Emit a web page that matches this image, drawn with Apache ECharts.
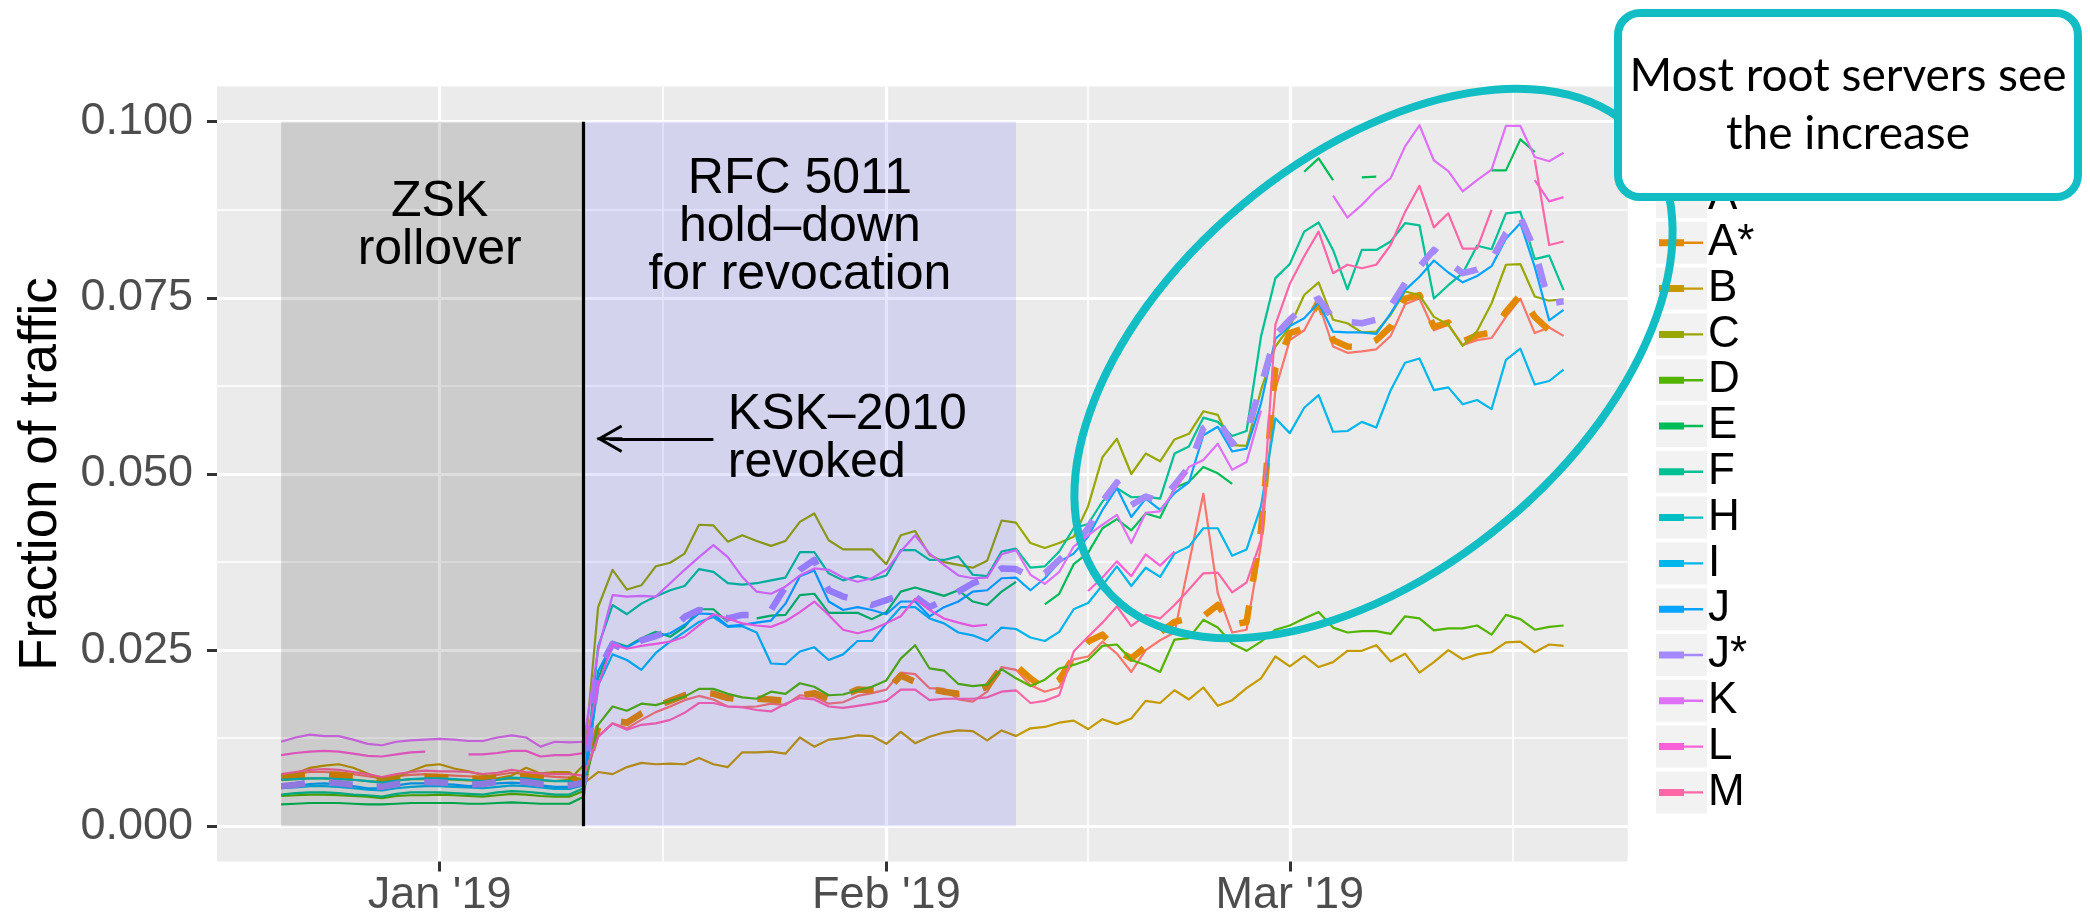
<!DOCTYPE html>
<html>
<head>
<meta charset="utf-8">
<script src="https://cdn.jsdelivr.net/npm/echarts@6/dist/echarts.min.js"></script>
<style>
  html, body { margin: 0; padding: 0; background: #ffffff; }
  #chart { width: 2090px; height: 921px; }
</style>
</head>
<body>
<div id="chart"></div>
<script>
// ---- time domain: one point per day, 2018-12-21 .. 2019-03-20 ----
const firstDay = Date.UTC(2018, 11, 21);
const jan1 = Date.UTC(2019, 0, 1);
const dayCount = 90;
const dates = [];
for (let i = 0; i < dayCount; i++) dates.push(new Date(firstDay + i * 864e5).toISOString().slice(0, 10));
const dayOf = (iso) => Math.round((Date.parse(iso) - jan1) / 864e5);   // days since 1 Jan 2019

// ---- axis ticks ----
const xTickDays = [0, 31, 59];
const xTickLabels = ["Jan '19", "Feb '19", "Mar '19"];
const xMinorDays = [15.5, 45, 74.5];
const yTicks = [0, 0.025, 0.05, 0.075, 0.1];
const yTickLabels = ['0.000', '0.025', '0.050', '0.075', '0.100'];
const yMinor = [0.0125, 0.0375, 0.0625, 0.0875];

// ---- periods and events (days since 1 Jan 2019) ----
const zskPeriod = [-11, 10];
const holdDownPeriod = [10, 40];
const revokedDay = 10;

// ---- root servers ----
const serverNames = ['A', 'A*', 'B', 'C', 'D', 'E', 'F', 'H', 'I', 'J', 'J*', 'K', 'L', 'M'];
const serverColors = ['#F8766D', '#E38900', '#C49A00', '#99A800', '#53B400', '#00BC56', '#00C094',
                      '#00BFC4', '#00B6EB', '#06A4FF', '#A58AFF', '#DF70F8', '#FB61D7', '#FF66A8'];
const dashedServers = ['A*', 'J*'];

// fraction of traffic per day (rows: Dec 21-Jan 11 | Jan 12-Feb 10 | Feb 11-Mar 1 | Mar 2-Mar 20)
const A = [
  .0072,.0075,.0077,.0077,.0076,.0074,.0071,.0068,.0071,.0073,.0074,.0073,.0072,.0071,.0070,.0073,.0076,.0074,.0072,.0070,.0069,.0066,
  .0127,.0146,.0139,.0151,.0162,.0170,.0179,.0185,.0180,.0170,.0169,.0170,.0174,.0172,.0186,.0184,.0174,.0176,.0185,.0189,.0194,.0218,.0216,.0196,.0195,.0180,.0177,.0191,.0226,.0222,
  .0200,.0191,.0197,.0237,.0241,.0262,.0245,.0219,.0250,.0264,.0275,.0373,.0472,.0331,.0275,.0279,.0400,.0620,.0690,
  .0704,.0742,.0681,.0672,.0674,.0677,.0696,.0741,.0749,.0704,.0712,.0683,.0690,.0693,.0723,.0749,.0700,.0708,.0696
];
const Astar = [
  .0069,.0071,.0073,.0073,.0073,.0071,.0068,.0065,.0068,.0070,.0070,.0070,.0069,.0068,.0067,.0070,.0073,.0071,.0069,.0067,.0066,.0064,
  .0140,.0150,.0147,.0160,.0170,.0178,.0186,.0190,.0188,.0182,.0180,.0181,.0180,.0178,.0185,.0189,.0181,.0185,.0194,.0193,.0192,.0214,.0205,.0195,.0191,.0188,.0190,.0198,.0226,.0228,
  .0210,.0195,.0208,.0240,.0262,.0272,.0250,.0238,.0255,.0275,.0290,.0295,.0298,.0314,.0286,.0290,.0420,.0650,.0700,
  .0707,.0745,.0690,.0681,.0680,.0690,.0709,.0749,.0754,.0709,.0715,.0688,.0697,.0701,.0730,.0754,.0723,.0704,.0697
];
const B = [
  .0070,.0075,.0083,.0086,.0088,.0083,.0075,.0066,.0070,.0078,.0086,.0088,.0082,.0078,.0073,.0068,.0072,.0083,.0075,.0077,.0077,.0061,
  .0077,.0074,.0084,.0090,.0088,.0089,.0088,.0097,.0088,.0084,.0105,.0105,.0106,.0103,.0126,.0113,.0123,.0125,.0129,.0128,.0117,.0134,.0118,.0127,.0133,.0136,.0135,.0122,.0136,.0128,
  .0139,.0141,.0147,.0150,.0138,.0152,.0145,.0153,.0178,.0175,.0193,.0180,.0197,.0171,.0179,.0196,.0210,.0241,.0227,
  .0242,.0226,.0233,.0249,.0249,.0257,.0234,.0245,.0218,.0233,.0250,.0237,.0244,.0247,.0261,.0262,.0247,.0258,.0256
];
const C = [
  .0066,.0067,.0068,.0068,.0067,.0066,.0064,.0063,.0065,.0067,.0067,.0067,.0066,.0065,.0064,.0066,.0068,.0067,.0065,.0064,.0066,.0087,
  .0311,.0364,.0336,.0342,.0369,.0374,.0387,.0428,.0427,.0404,.0413,.0405,.0398,.0405,.0432,.0444,.0406,.0393,.0393,.0393,.0372,.0413,.0419,.0385,.0375,.0371,.0367,.0377,.0434,.0431,
  .0402,.0395,.0402,.0411,.0454,.0524,.0550,.0500,.0529,.0518,.0549,.0557,.0589,.0584,.0541,.0540,.0619,.0681,.0709,
  .0754,.0772,.0719,.0714,.0701,.0702,.0726,.0759,.0754,.0723,.0712,.0682,.0703,.0742,.0797,.0798,.0752,.0746,.0748
];
const D = [
  .0043,.0044,.0045,.0045,.0044,.0043,.0042,.0040,.0043,.0044,.0044,.0045,.0044,.0043,.0042,.0044,.0046,.0045,.0043,.0042,.0042,.0050,
  .0144,.0170,.0164,.0174,.0172,.0178,.0184,.0195,.0195,.0188,.0183,.0181,.0191,.0188,.0203,.0198,.0186,.0187,.0193,.0198,.0207,.0238,.0257,.0224,.0221,.0202,.0199,.0201,.0223,.0210,
  .0199,.0208,.0224,.0229,.0236,.0256,.0258,.0236,.0229,.0219,.0265,.0267,.0293,.0282,.0259,.0249,.0262,.0279,.0285,
  .0295,.0304,.0282,.0275,.0277,.0277,.0273,.0298,.0295,.0278,.0281,.0281,.0285,.0272,.0300,.0294,.0279,.0283,.0285
];
const E = [
  .0031,.0032,.0033,.0033,.0033,.0032,.0031,.0031,.0032,.0033,.0033,.0033,.0033,.0032,.0032,.0033,.0034,.0033,.0032,.0032,.0032,.0042,
  .0210,.0262,.0255,.0267,.0276,.0269,.0283,.0308,.0308,.0290,null,.0295,.0299,.0300,.0328,.0330,.0303,.0303,.0303,.0294,.0304,.0333,.0339,.0333,.0327,.0335,.0319,.0314,.0333,.0347,
  null,.0315,.0330,.0372,.0388,.0423,.0436,.0420,.0444,.0438,.0480,.0489,.0510,.0501,.0486,null,null,null,null,
  .0929,.0948,.0917,null,.0921,.0922,null,null,null,null,null,null,null,.0931,.0931,.0975,.0957,null,null
];
const F = [
  .0045,.0047,.0048,.0048,.0047,.0045,.0044,.0042,.0046,.0048,.0048,.0048,.0047,.0046,.0045,.0048,.0050,.0049,.0047,.0045,.0045,.0054,
  .0255,.0314,.0301,.0316,.0326,.0335,.0341,.0365,.0361,.0345,.0343,.0345,.0349,.0353,.0389,.0389,.0359,.0349,.0355,.0350,.0356,.0392,.0392,.0378,.0378,.0383,.0357,.0355,.0390,.0394,
  .0367,.0369,.0390,.0423,.0429,.0461,.0480,.0467,.0468,.0465,.0529,.0539,.0580,.0574,.0554,.0561,.0695,.0778,.0798,
  .0844,.0857,.0818,.0762,.0818,.0818,.0830,.0856,.0853,.0749,.0768,.0785,.0824,.0819,.0870,.0872,.0805,.0810,.0761
];
const H = [
  .0066,.0067,.0068,.0068,.0067,.0066,.0064,.0062,.0065,.0067,.0068,.0068,.0067,.0066,.0064,.0066,.0069,.0068,.0066,.0064,.0064,.0060,
  null,null,null,null,null,null,null,null,null,null,null,null,null,null,null,null,null,null,null,null,null,null,null,null,null,null,null,null,null,null,
  null,null,null,null,null,null,null,null,null,null,null,null,null,null,null,null,null,null,null,
  null,null,null,null,null,null,null,null,null,null,null,null,null,null,null,null,null,null,null
];
const I = [
  .0054,.0055,.0057,.0057,.0056,.0054,.0052,.0051,.0054,.0056,.0057,.0057,.0056,.0055,.0054,.0056,.0058,.0057,.0055,.0053,.0053,.0058,
  .0200,.0244,.0236,.0222,.0246,.0262,.0276,.0290,.0297,.0283,.0284,.0275,.0231,.0230,.0248,.0254,.0236,.0244,.0263,.0263,.0288,.0311,.0311,.0295,.0288,.0275,.0271,.0263,.0282,.0280,
  .0268,.0263,.0276,.0308,.0317,.0342,.0369,.0341,.0367,.0354,.0387,.0397,.0423,.0423,.0384,.0393,.0454,.0579,.0558,
  .0594,.0612,.0560,.0561,.0574,.0566,.0619,.0658,.0664,.0619,.0623,.0599,.0605,.0592,.0662,.0678,.0627,.0632,.0648
];
const J = [
  .0055,.0057,.0060,.0061,.0059,.0057,.0054,.0054,.0058,.0061,.0061,.0060,.0059,.0057,.0058,.0061,.0062,.0061,.0058,.0056,.0056,.0060,
  .0220,.0259,.0254,.0265,.0269,.0274,.0286,.0302,.0301,.0284,.0286,.0289,.0292,.0316,.0355,.0363,.0319,.0307,.0311,.0307,.0301,.0319,.0319,.0298,.0311,.0319,.0333,.0335,.0352,.0353,
  .0335,.0352,.0375,.0387,.0411,.0449,.0480,.0439,.0465,.0449,.0473,.0488,.0555,.0567,.0532,.0536,.0600,.0692,.0710,
  .0721,.0743,.0702,.0701,.0701,.0699,.0728,.0761,.0780,.0803,.0786,.0772,.0781,.0795,.0834,.0856,.0794,.0718,.0733
];
const Jstar = [
  .0057,.0059,.0062,.0063,.0061,.0059,.0056,.0056,.0060,.0063,.0063,.0062,.0061,.0059,.0060,.0063,.0064,.0063,.0060,.0058,.0058,.0062,
  .0220,.0259,.0248,.0264,.0270,.0278,.0297,.0307,.0304,.0295,.0300,.0300,.0307,.0340,.0364,.0378,.0335,.0326,.0321,.0314,.0321,.0328,.0326,.0311,.0321,.0333,.0345,.0352,.0366,.0365,
  .0354,.0359,.0378,.0397,.0423,.0461,.0488,.0456,.0468,.0461,.0484,.0510,.0565,.0578,.0543,.0560,.0624,.0697,.0719,
  .0738,.0749,.0721,.0716,.0714,.0719,.0738,.0771,.0794,.0818,.0801,.0785,.0790,.0804,.0842,.0865,.0818,.0742,.0745
];
const K = [
  .0120,.0126,.0130,.0128,.0128,.0123,.0117,.0115,.0120,.0122,.0123,.0124,.0123,.0121,.0121,.0126,.0129,.0126,.0113,.0120,.0119,.0120,
  .0250,.0328,.0326,.0327,.0326,.0345,.0364,.0382,.0399,.0382,.0354,.0333,.0330,.0340,.0356,.0366,.0364,.0353,.0347,.0352,.0364,.0390,.0413,.0387,.0371,.0356,.0352,.0353,.0386,.0392,
  .0357,.0344,.0361,.0397,.0413,.0428,.0442,.0402,.0445,.0447,.0477,.0510,.0520,.0543,.0506,.0517,.0590,null,null,
  null,null,.0895,.0864,.0882,.0903,.0920,.0965,.0995,.0945,.0930,.0901,.0917,.0932,.0994,.0994,.0950,.0944,.0956
];
const L = [
  .0101,.0104,.0106,.0107,.0106,.0103,.0100,.0099,.0102,.0105,.0106,null,null,.0102,.0102,.0104,.0107,.0107,.0099,.0101,.0101,.0104,
  .0200,.0258,.0252,.0256,.0259,.0262,.0269,.0285,.0301,.0295,.0288,.0285,.0283,.0291,.0304,.0319,.0300,.0279,.0274,.0279,.0288,.0298,.0323,.0307,.0295,.0289,.0284,.0286,null,null,
  null,null,null,null,.0334,.0353,.0376,.0355,.0386,.0370,.0390,null,null,null,null,null,null,null,null,
  null,null,null,null,null,null,null,null,null,null,null,null,null,null,null,null,.0917,.0887,.0893
];
const M = [
  .0074,.0077,.0080,.0081,.0080,.0077,.0074,.0070,.0074,.0077,.0079,.0078,.0078,.0077,.0074,.0076,.0080,.0077,.0075,.0074,.0074,.0072,
  .0127,.0146,.0137,.0144,.0146,.0151,.0161,.0175,.0175,.0170,.0169,.0165,.0163,.0174,.0182,.0180,.0170,.0168,.0171,.0174,.0178,.0194,.0194,.0179,.0181,.0181,.0181,.0183,.0191,.0193,
  .0175,.0178,.0186,.0248,.0269,.0289,.0312,.0284,.0300,.0295,.0314,.0336,.0359,.0360,.0332,.0346,.0406,.0712,.0770,
  .0809,.0844,.0785,.0797,.0792,.0797,.0825,.0872,.0909,.0850,.0870,.0820,.0820,.0875,null,null,.0946,.0825,.0830
];
const serverValues = [A, Astar, B, C, D, E, F, H, I, J, Jstar, K, L, M];

// ---- layout constants ----
const FONT = "'Liberation Sans', Arial, Helvetica, sans-serif";
const plot = { left: 217, top: 86.5, right: 462.3, bottom: 59.5 };
const xRange = [-15.45, 82.45];
const yRange = [-0.005, 0.105];
const legendFontSize = 44;
const legendLeft = 1659, legendFirstMid = 197, legendPitch = 45.8;
const cyan = '#12BEC4';

const findLabel = (vals, labels, v) => {
  const i = vals.findIndex(t => Math.abs(t - v) < 1e-9);
  return i < 0 ? '' : labels[i];
};

const lineSeries = serverNames.map((name, k) => {
  const dashed = dashedServers.includes(name);
  return {
    type: 'line',
    name: name,
    data: dates.map((d, i) => [dayOf(d), serverValues[k][i]]),
    showSymbol: false,
    symbol: 'none',
    connectNulls: false,
    color: serverColors[k],
    lineStyle: {
      color: serverColors[k],
      width: dashed ? 6.5 : 2.2,
      type: dashed ? [24, 24] : 'solid',
      cap: 'butt',
      join: 'round'
    },
    z: 2,
    silent: true,
    emphasis: { disabled: true },
    animation: false
  };
});

// Periods, the revocation marker and the period captions
const arrowPath = 'path://M14 0L28 24.5L25.6 26L14 6L2.4 26L0 24.5Z M12.5 1H15.5V26H12.5Z';
const annotationSeries = {
  type: 'line',
  name: 'periods',
  data: [],
  silent: true,
  animation: false,
  markArea: {
    silent: true,
    z: 3,
    animation: false,
    label: { show: false },
    data: [
      [{ xAxis: zskPeriod[0], yAxis: 0, itemStyle: { color: 'rgba(0,0,0,0.13)' } }, { xAxis: zskPeriod[1], yAxis: 0.1 }],
      [{ xAxis: holdDownPeriod[0], yAxis: 0, itemStyle: { color: 'rgba(0,0,255,0.10)' } }, { xAxis: holdDownPeriod[1], yAxis: 0.1 }]
    ]
  },
  markLine: {
    silent: true,
    z: 4,
    animation: false,
    symbol: ['none', 'none'],
    label: { show: false },
    lineStyle: { color: '#000000', width: 3.2, type: 'solid', opacity: 1 },
    data: [
      [{ coord: [revokedDay, 0] }, { coord: [revokedDay, 0.1] }],
      [{ coord: [19, 0.055], symbol: 'none' }, { coord: [11.78, 0.055], symbol: arrowPath, symbolSize: [28, 26] }]
    ]
  },
  markPoint: {
    silent: true,
    z: 5,
    animation: false,
    symbol: 'circle',
    symbolSize: 0,
    itemStyle: { color: 'rgba(0,0,0,0)' },
    label: {
      show: true,
      position: 'inside',
      formatter: p => p.name,
      color: '#000000',
      fontFamily: FONT,
      fontSize: 50,
      lineHeight: 48
    },
    data: [
      { name: 'ZSK\nrollover', coord: [0, 0.0852] },
      { name: 'RFC 5011\nhold–down\nfor revocation', coord: [25, 0.0850] },
      { name: 'KSK–2010\nrevoked', coord: [20, 0.0550], label: { align: 'left' } }
    ]
  }
};

// legend key backgrounds
const keyBoxes = serverNames.map((n, k) => ({
  type: 'rect',
  z: 1,
  silent: true,
  shape: { x: 1656, y: legendFirstMid + legendPitch * k - 21, width: 51, height: 42 },
  style: { fill: '#F2F2F2' }
}));

const option = {
  animation: false,
  backgroundColor: '#ffffff',
  textStyle: { fontFamily: FONT },
  grid: {
    left: plot.left, top: plot.top, right: plot.right, bottom: plot.bottom,
    show: true, backgroundColor: '#EBEBEB', borderWidth: 0,
    containLabel: false, outerBoundsMode: 'none'
  },
  xAxis: [
    {
      type: 'value', min: xRange[0], max: xRange[1], position: 'bottom',
      axisLine: { show: false, onZero: false },
      axisTick: { show: true, customValues: xTickDays, length: 10, lineStyle: { color: '#333333', width: 3 } },
      axisLabel: {
        show: true, customValues: xTickDays, margin: 12,
        formatter: v => findLabel(xTickDays, xTickLabels, v),
        color: '#4D4D4D', fontSize: 45, lineHeight: 45, fontFamily: FONT, hideOverlap: false
      },
      splitLine: { show: true, lineStyle: { color: '#ffffff', width: 3.2 } }
    },
    {
      type: 'value', min: xRange[0], max: xRange[1], position: 'bottom',
      axisLine: { show: false, onZero: false },
      axisTick: { show: false, customValues: xMinorDays },
      axisLabel: { show: false },
      splitLine: { show: true, lineStyle: { color: '#ffffff', width: 1.6 } }
    }
  ],
  yAxis: [
    {
      type: 'value', min: yRange[0], max: yRange[1], position: 'left',
      name: 'Fraction of traffic', nameLocation: 'middle', nameGap: 149, nameMoveOverlap: false,
      nameTextStyle: { color: '#000000', fontSize: 53, lineHeight: 53, fontFamily: FONT },
      axisLine: { show: false, onZero: false },
      axisTick: { show: true, customValues: yTicks, length: 10, lineStyle: { color: '#333333', width: 3 } },
      axisLabel: {
        show: true, customValues: yTicks, margin: 24,
        formatter: v => findLabel(yTicks, yTickLabels, v),
        color: '#4D4D4D', fontSize: 45, lineHeight: 45, fontFamily: FONT, hideOverlap: false
      },
      splitLine: { show: true, lineStyle: { color: '#ffffff', width: 3.2 } }
    },
    {
      type: 'value', min: yRange[0], max: yRange[1], position: 'left',
      axisLine: { show: false, onZero: false },
      axisTick: { show: false, customValues: yMinor },
      axisLabel: { show: false },
      splitLine: { show: true, lineStyle: { color: '#ffffff', width: 1.6 } }
    }
  ],
  legend: {
    show: true,
    orient: 'vertical',
    left: legendLeft,
    top: legendFirstMid - legendFontSize / 2,
    padding: 0,
    itemGap: legendPitch - legendFontSize,
    itemWidth: 44,
    itemHeight: 7,
    icon: 'path://M0 0H25V7H0Z M25 2.3H44V4.7H25Z',
    symbolKeepAspect: false,
    selectedMode: false,
    itemStyle: { borderWidth: 0 },
    textStyle: { color: '#000000', fontSize: legendFontSize, lineHeight: legendFontSize, fontFamily: FONT },
    data: serverNames,
    z: 4
  },
  graphic: [
    ...keyBoxes,
    {
      type: 'ellipse', z: 50, silent: true,
      x: 1373.5, y: 363.5, rotation: 40 * Math.PI / 180,
      shape: { cx: 0, cy: 0, rx: 350, ry: 206 },
      style: { fill: 'none', stroke: cyan, lineWidth: 8 }
    },
    {
      type: 'rect', z: 60, silent: true,
      shape: { x: 1618, y: 13, width: 460, height: 184, r: 22 },
      style: { fill: '#ffffff', stroke: cyan, lineWidth: 8 }
    },
    {
      type: 'text', z: 61, silent: true,
      x: 1848, y: 105,
      style: {
        text: 'Most root servers see\nthe increase',
        fill: '#000000',
        font: "46px Lato, 'Open Sans', sans-serif",
        align: 'center', verticalAlign: 'middle', lineHeight: 58
      }
    }
  ],
  series: [...lineSeries, annotationSeries]
};

const chart = echarts.init(document.getElementById('chart'), null, { renderer: 'canvas', width: 2090, height: 921 });
chart.setOption(option);
</script>
</body>
</html>
